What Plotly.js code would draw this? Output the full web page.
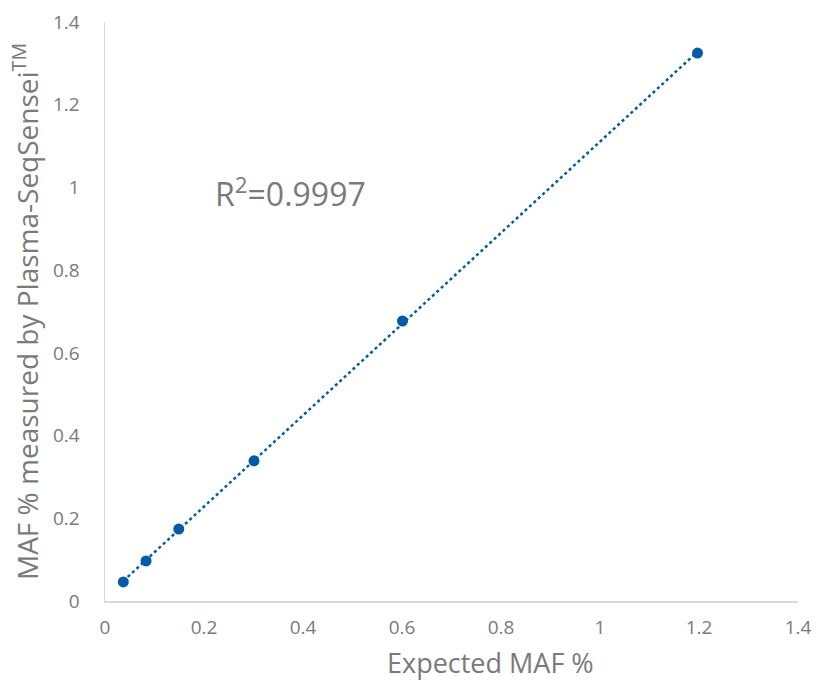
<!DOCTYPE html>
<html><head><meta charset="utf-8">
<script src="https://cdn.plot.ly/plotly-3.0.1.min.js"></script>
<style>html,body{margin:0;padding:0;background:#fff}</style>
</head><body>
<div id="chart" style="width:816px;height:682px"></div>
<script>
const expectedMAF = [0.037, 0.083, 0.149, 0.301, 0.601, 1.197];
const measuredMAF = [0.046, 0.097, 0.174, 0.339, 0.677, 1.325];
const xTicks = [0, 0.2, 0.4, 0.6, 0.8, 1, 1.2, 1.4];
const yTicks = [0, 0.2, 0.4, 0.6, 0.8, 1, 1.2, 1.4];
const rSquaredLabel = "R<sup>2</sup>=0.9997";
const xTitle = "Expected MAF %";
const yTitle = "MAF % measured by Plasma-SeqSensei<sup>TM</sup>";

// least-squares trendline from data
const n = expectedMAF.length;
const mx = expectedMAF.reduce((a,b)=>a+b,0)/n;
const my = measuredMAF.reduce((a,b)=>a+b,0)/n;
let sxy=0, sxx=0;
for (let i=0;i<n;i++){sxy+=(expectedMAF[i]-mx)*(measuredMAF[i]-my);sxx+=(expectedMAF[i]-mx)**2;}
const slope=sxy/sxx, intercept=my-slope*mx;
const xs=[Math.min(...expectedMAF), Math.max(...expectedMAF)];
const ys=xs.map(x=>slope*x+intercept);

const grey='#7a7a7a';
const fontFam='"Open Sans", "Noto Sans", sans-serif';
const data=[
 {x:xs,y:ys,mode:'lines',line:{color:'#005bac',width:2.5,dash:'dot'},hoverinfo:'skip',showlegend:false},
 {x:expectedMAF,y:measuredMAF,mode:'markers',marker:{color:'#005bac',size:11},showlegend:false}
];
const layout={
 width:816,height:682,
 margin:{l:105,r:18,t:22,b:81},
 paper_bgcolor:'#fff',plot_bgcolor:'#fff',
 font:{family:fontFam,color:grey},
 xaxis:{range:[0,1.4],tickvals:xTicks,ticktext:xTicks.map(String),showgrid:false,zeroline:false,
  showline:true,linecolor:'#d9d9d9',linewidth:1.5,ticks:'',tickfont:{size:19,color:grey},
  ticklabelstandoff:9},
 yaxis:{range:[0,1.4],tickvals:yTicks,ticktext:yTicks.map(String),showgrid:false,zeroline:false,
  showline:true,linecolor:'#d9d9d9',linewidth:1.5,ticks:'',tickfont:{size:19,color:grey},
  ticklabelstandoff:20,
  title:{text:yTitle,font:{size:28,color:grey},standoff:6}},
 annotations:[
  {x:0.218,y:0.99,xref:'x',yref:'y',xanchor:'left',yanchor:'middle',showarrow:false,
   text:rSquaredLabel,font:{size:32,color:grey}},
  {x:0.556,y:-0.106,xref:'paper',yref:'paper',xanchor:'center',yanchor:'middle',showarrow:false,
   text:xTitle,font:{size:27,color:grey}}
 ]
};
Plotly.newPlot('chart',data,layout,{displayModeBar:false,staticPlot:true});
</script>
</body></html>
